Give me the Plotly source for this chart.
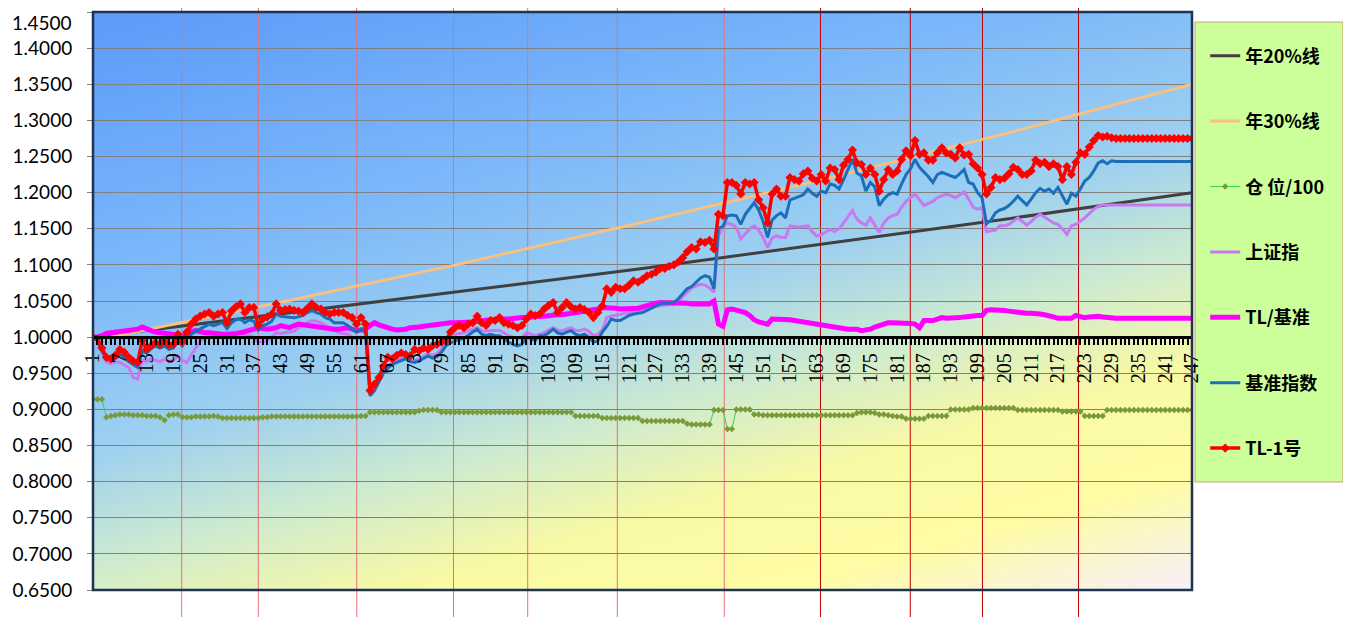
import base64
import struct
import zlib

import numpy as np
import plotly.graph_objects as go

# ---------------- data ----------------
categories = list(range(1, 248))
tick_values = list(range(1, 248, 6))
tick_labels = [str(v) for v in tick_values]
y_tick_values = [0.65, 0.70, 0.75, 0.80, 0.85, 0.90, 0.95, 1.00, 1.05, 1.10,
                 1.15, 1.20, 1.25, 1.30, 1.35, 1.40, 1.45]

# reference growth lines
ref_x = [1, 42, 83, 124, 165, 206, 247]
year20_line = [1.000, 1.031, 1.063, 1.095, 1.129, 1.164, 1.200]
year30_line = [0.995, 1.047, 1.101, 1.159, 1.219, 1.283, 1.350]

position_100 = [
    0.914, 0.914, 0.914, 0.889, 0.891, 0.892, 0.893, 0.893, 0.893, 0.892,
    0.892, 0.892, 0.891, 0.891, 0.891, 0.889, 0.885, 0.892, 0.893, 0.893,
    0.889, 0.889, 0.889, 0.890, 0.890, 0.890, 0.890, 0.891, 0.890, 0.888,
    0.888, 0.888, 0.888, 0.888, 0.888, 0.888, 0.888, 0.888, 0.889, 0.889,
    0.890, 0.890, 0.890, 0.890, 0.890, 0.890, 0.890, 0.890, 0.890, 0.890,
    0.890, 0.890, 0.890, 0.890, 0.890, 0.890, 0.890, 0.890, 0.890, 0.890,
    0.891, 0.891, 0.896, 0.896, 0.896, 0.896, 0.896, 0.896, 0.896, 0.896,
    0.896, 0.896, 0.896, 0.898, 0.899, 0.899, 0.899, 0.899, 0.896, 0.896,
    0.896, 0.896, 0.896, 0.896, 0.896, 0.896, 0.896, 0.896, 0.896, 0.896,
    0.896, 0.896, 0.896, 0.896, 0.896, 0.896, 0.896, 0.896, 0.896, 0.896,
    0.896, 0.896, 0.896, 0.896, 0.896, 0.896, 0.896, 0.896, 0.891, 0.891,
    0.891, 0.891, 0.891, 0.891, 0.888, 0.888, 0.888, 0.888, 0.888, 0.888,
    0.888, 0.888, 0.888, 0.884, 0.884, 0.884, 0.884, 0.884, 0.884, 0.884,
    0.884, 0.884, 0.884, 0.880, 0.879, 0.879, 0.879, 0.879, 0.879, 0.899,
    0.899, 0.899, 0.873, 0.873, 0.900, 0.900, 0.900, 0.900, 0.893, 0.893,
    0.892, 0.892, 0.892, 0.892, 0.892, 0.892, 0.892, 0.892, 0.892, 0.892,
    0.892, 0.892, 0.892, 0.892, 0.892, 0.892, 0.892, 0.892, 0.892, 0.892,
    0.892, 0.895, 0.896, 0.896, 0.896, 0.895, 0.893, 0.893, 0.892, 0.891,
    0.890, 0.890, 0.887, 0.887, 0.887, 0.887, 0.887, 0.891, 0.891, 0.891,
    0.891, 0.891, 0.900, 0.900, 0.900, 0.900, 0.900, 0.902, 0.902, 0.902,
    0.902, 0.902, 0.902, 0.902, 0.902, 0.902, 0.902, 0.899, 0.899, 0.899,
    0.899, 0.899, 0.899, 0.899, 0.899, 0.899, 0.899, 0.897, 0.897, 0.897,
    0.897, 0.897, 0.891, 0.891, 0.891, 0.891, 0.891, 0.899, 0.899, 0.899,
    0.899, 0.899, 0.899, 0.899, 0.899, 0.899, 0.899, 0.899, 0.899, 0.899,
    0.899, 0.899, 0.899, 0.899, 0.899, 0.899, 0.899,
]

shanghai_index = [
    1.000, 0.995, 0.978, 0.966, 0.963, 0.966, 0.965, 0.962, 0.958, 0.944,
    0.942, 0.968, 0.966, 0.970, 0.968, 0.966, 0.970, 0.966, 0.968, 0.974,
    0.968, 0.965, 0.975, 0.986, 0.995, 0.997, 1.002, 1.002, 1.004, 1.002,
    0.998, 1.004, 1.006, 1.006, 1.002, 1.003, 1.000, 0.993, 0.994, 0.995,
    1.000, 1.006, 1.005, 1.006, 1.006, 1.008, 1.013, 1.016, 1.020, 1.023,
    1.022, 1.020, 1.016, 1.013, 1.009, 1.006, 1.005, 1.004, 1.000, 0.997,
    1.000, 0.998, 0.925, 0.930, 0.942, 0.953, 0.960, 0.965, 0.968, 0.970,
    0.972, 0.968, 0.967, 0.970, 0.973, 0.977, 0.975, 0.977, 0.984, 0.993,
    1.000, 1.004, 1.005, 1.006, 1.009, 1.011, 1.013, 1.009, 1.008, 1.009,
    1.009, 1.009, 1.006, 1.002, 1.000, 0.998, 0.999, 1.006, 1.004, 1.002,
    1.004, 1.006, 1.010, 1.013, 1.010, 1.009, 1.011, 1.013, 1.009, 1.009,
    1.011, 1.008, 1.002, 1.004, 1.010, 1.027, 1.029, 1.030, 1.031, 1.032,
    1.034, 1.036, 1.037, 1.038, 1.040, 1.041, 1.043, 1.043, 1.044, 1.045,
    1.045, 1.050, 1.056, 1.062, 1.068, 1.071, 1.073, 1.072, 1.068, 1.062,
    1.140, 1.153, 1.158, 1.156, 1.152, 1.136, 1.143, 1.150, 1.154, 1.148,
    1.138, 1.124, 1.137, 1.140, 1.138, 1.138, 1.154, 1.153, 1.152, 1.153,
    1.154, 1.146, 1.140, 1.142, 1.145, 1.149, 1.146, 1.150, 1.158, 1.167,
    1.175, 1.163, 1.158, 1.155, 1.165, 1.155, 1.145, 1.158, 1.165, 1.168,
    1.170, 1.180, 1.188, 1.193, 1.198, 1.190, 1.182, 1.185, 1.188, 1.193,
    1.196, 1.198, 1.196, 1.193, 1.197, 1.201, 1.191, 1.180, 1.177, 1.179,
    1.146, 1.147, 1.148, 1.154, 1.154, 1.156, 1.161, 1.165, 1.160, 1.155,
    1.160, 1.166, 1.170, 1.166, 1.162, 1.158, 1.156, 1.150, 1.142, 1.154,
    1.156, 1.160, 1.165, 1.171, 1.177, 1.181, 1.183, 1.183, 1.183, 1.183,
    1.183, 1.183, 1.183, 1.183, 1.183, 1.183, 1.183, 1.183, 1.183, 1.183,
    1.183, 1.183, 1.183, 1.183, 1.183, 1.183, 1.183,
]

tl_vs_benchmark = [
    1.000, 1.000, 1.002, 1.005, 1.006, 1.007, 1.008, 1.008, 1.009, 1.010,
    1.011, 1.014, 1.011, 1.009, 1.007, 1.006, 1.006, 1.005, 1.004, 1.003,
    1.002, 1.004, 1.008, 1.009, 1.007, 1.006, 1.006, 1.005, 1.004, 1.004,
    1.004, 1.004, 1.005, 1.006, 1.008, 1.010, 1.011, 1.013, 1.012, 1.011,
    1.012, 1.013, 1.016, 1.014, 1.013, 1.016, 1.018, 1.017, 1.016, 1.015,
    1.014, 1.013, 1.012, 1.011, 1.011, 1.011, 1.012, 1.013, 1.011, 1.009,
    1.010, 1.011, 1.016, 1.020, 1.017, 1.015, 1.012, 1.011, 1.010, 1.010,
    1.011, 1.013, 1.013, 1.014, 1.015, 1.016, 1.017, 1.018, 1.018, 1.019,
    1.020, 1.020, 1.020, 1.020, 1.021, 1.021, 1.022, 1.023, 1.023, 1.024,
    1.024, 1.025, 1.025, 1.025, 1.026, 1.026, 1.027, 1.027, 1.028, 1.028,
    1.029, 1.029, 1.030, 1.030, 1.031, 1.031, 1.032, 1.032, 1.033, 1.034,
    1.035, 1.036, 1.037, 1.039, 1.041, 1.041, 1.041, 1.040, 1.039, 1.039,
    1.039, 1.039, 1.040, 1.042, 1.044, 1.046, 1.047, 1.048, 1.048, 1.048,
    1.048, 1.048, 1.047, 1.047, 1.046, 1.046, 1.046, 1.046, 1.046, 1.050,
    1.018, 1.015, 1.038, 1.039, 1.037, 1.036, 1.034, 1.030, 1.024, 1.021,
    1.019, 1.018, 1.025, 1.025, 1.024, 1.025, 1.024, 1.023, 1.022, 1.021,
    1.020, 1.019, 1.018, 1.017, 1.016, 1.014, 1.013, 1.012, 1.011, 1.011,
    1.011, 1.011, 1.009, 1.010, 1.011, 1.014, 1.016, 1.018, 1.020, 1.020,
    1.020, 1.020, 1.020, 1.019, 1.018, 1.013, 1.023, 1.023, 1.023, 1.025,
    1.027, 1.026, 1.026, 1.026, 1.027, 1.028, 1.029, 1.030, 1.030, 1.030,
    1.037, 1.038, 1.038, 1.037, 1.037, 1.036, 1.035, 1.034, 1.034, 1.033,
    1.033, 1.033, 1.032, 1.031, 1.030, 1.028, 1.026, 1.026, 1.026, 1.026,
    1.030, 1.028, 1.027, 1.028, 1.029, 1.029, 1.028, 1.027, 1.026, 1.026,
    1.026, 1.026, 1.026, 1.026, 1.026, 1.026, 1.026, 1.026, 1.026, 1.026,
    1.026, 1.026, 1.026, 1.026, 1.026, 1.026, 1.026,
]

benchmark_index = [
    1.000, 0.995, 0.980, 0.972, 0.967, 0.970, 0.976, 0.972, 0.966, 0.962,
    0.958, 0.980, 0.978, 0.984, 0.988, 0.985, 0.988, 0.983, 0.985, 0.995,
    0.988, 0.998, 1.004, 1.008, 1.011, 1.014, 1.018, 1.016, 1.018, 1.020,
    1.012, 1.020, 1.024, 1.025, 1.020, 1.024, 1.022, 1.010, 1.016, 1.018,
    1.022, 1.032, 1.029, 1.028, 1.027, 1.027, 1.028, 1.030, 1.034, 1.037,
    1.034, 1.032, 1.027, 1.025, 1.020, 1.020, 1.020, 1.016, 1.011, 1.007,
    1.011, 1.006, 0.919, 0.926, 0.938, 0.950, 0.957, 0.962, 0.965, 0.968,
    0.970, 0.966, 0.965, 0.967, 0.970, 0.974, 0.971, 0.973, 0.979, 0.988,
    0.992, 0.995, 0.997, 0.998, 1.003, 1.007, 1.011, 1.004, 1.002, 1.004,
    1.002, 1.002, 0.998, 0.993, 0.990, 0.988, 0.990, 1.000, 0.998, 0.995,
    1.002, 1.002, 1.006, 1.011, 1.006, 1.004, 1.007, 1.009, 1.004, 1.002,
    1.004, 1.000, 0.993, 0.995, 1.007, 1.015, 1.025, 1.023, 1.023, 1.027,
    1.030, 1.032, 1.033, 1.034, 1.037, 1.040, 1.043, 1.046, 1.047, 1.047,
    1.048, 1.053, 1.060, 1.067, 1.070, 1.076, 1.082, 1.085, 1.083, 1.067,
    1.151, 1.153, 1.168, 1.169, 1.168, 1.156, 1.170, 1.178, 1.186, 1.176,
    1.160, 1.138, 1.162, 1.168, 1.172, 1.165, 1.190, 1.192, 1.194, 1.197,
    1.205, 1.199, 1.195, 1.202, 1.200, 1.212, 1.210, 1.205, 1.218, 1.232,
    1.246, 1.227, 1.223, 1.202, 1.214, 1.208, 1.182, 1.191, 1.197, 1.200,
    1.198, 1.212, 1.225, 1.233, 1.246, 1.235, 1.229, 1.222, 1.214, 1.225,
    1.228, 1.226, 1.224, 1.221, 1.226, 1.232, 1.214, 1.212, 1.200, 1.193,
    1.157, 1.162, 1.172, 1.176, 1.178, 1.182, 1.188, 1.195, 1.189, 1.183,
    1.191, 1.200, 1.206, 1.202, 1.205, 1.199, 1.207, 1.196, 1.184, 1.199,
    1.195, 1.205, 1.216, 1.221, 1.230, 1.241, 1.244, 1.240, 1.244, 1.243,
    1.243, 1.243, 1.243, 1.243, 1.243, 1.243, 1.243, 1.243, 1.243, 1.243,
    1.243, 1.243, 1.243, 1.243, 1.243, 1.243, 1.243,
]

tl1_fund = [
    1.000, 0.998, 0.985, 0.972, 0.970, 0.975, 0.983, 0.979, 0.972, 0.967,
    0.965, 0.995, 0.983, 0.988, 0.993, 0.990, 0.995, 0.989, 0.990, 1.004,
    0.993, 1.007, 1.018, 1.025, 1.029, 1.032, 1.034, 1.029, 1.032, 1.034,
    1.020, 1.036, 1.042, 1.046, 1.034, 1.041, 1.041, 1.016, 1.025, 1.028,
    1.032, 1.046, 1.037, 1.038, 1.039, 1.037, 1.036, 1.034, 1.040, 1.046,
    1.041, 1.039, 1.034, 1.032, 1.034, 1.034, 1.034, 1.030, 1.027, 1.018,
    1.027, 1.018, 0.926, 0.935, 0.944, 0.960, 0.972, 0.970, 0.975, 0.978,
    0.976, 0.974, 0.983, 0.981, 0.985, 0.983, 0.988, 0.990, 0.993, 0.995,
    1.007, 1.013, 1.016, 1.013, 1.018, 1.020, 1.029, 1.020, 1.016, 1.023,
    1.023, 1.027, 1.020, 1.018, 1.016, 1.013, 1.016, 1.025, 1.032, 1.030,
    1.032, 1.039, 1.044, 1.048, 1.034, 1.041, 1.048, 1.042, 1.039, 1.041,
    1.038, 1.034, 1.027, 1.034, 1.043, 1.067, 1.062, 1.069, 1.067, 1.067,
    1.072, 1.078, 1.076, 1.080, 1.085, 1.087, 1.090, 1.095, 1.095, 1.098,
    1.100, 1.104, 1.110, 1.118, 1.124, 1.122, 1.132, 1.131, 1.134, 1.122,
    1.170, 1.168, 1.214, 1.214, 1.210, 1.198, 1.214, 1.212, 1.214, 1.190,
    1.179, 1.158, 1.198, 1.205, 1.195, 1.195, 1.221, 1.218, 1.216, 1.226,
    1.230, 1.220, 1.216, 1.225, 1.216, 1.234, 1.232, 1.218, 1.238, 1.246,
    1.259, 1.241, 1.239, 1.225, 1.234, 1.225, 1.202, 1.218, 1.232, 1.225,
    1.230, 1.246, 1.258, 1.251, 1.272, 1.253, 1.255, 1.245, 1.245, 1.255,
    1.262, 1.255, 1.253, 1.248, 1.262, 1.252, 1.253, 1.240, 1.234, 1.225,
    1.198, 1.207, 1.221, 1.218, 1.220, 1.226, 1.235, 1.232, 1.225, 1.225,
    1.230, 1.245, 1.240, 1.242, 1.236, 1.240, 1.236, 1.218, 1.236, 1.225,
    1.242, 1.255, 1.253, 1.263, 1.272, 1.279, 1.277, 1.278, 1.276, 1.275,
    1.275, 1.275, 1.275, 1.275, 1.275, 1.275, 1.275, 1.275, 1.275, 1.275,
    1.275, 1.275, 1.275, 1.275, 1.275, 1.275, 1.275,
]

# vertical marker lines (category positions) and their colours
light_marks = [20.85, 38.0, 60.03, 81.69, 98.3, 118.36, 142.3]
dark_marks = [163.84, 183.94, 200.1, 221.6]

for _s in (position_100, shanghai_index, tl_vs_benchmark, benchmark_index, tl1_fund):
    assert len(_s) == len(categories), len(_s)

# ---------------- axis geometry ----------------
Y_LO, Y_HI = y_tick_values[0], y_tick_values[-1]   # gridded value range
Y_VIEW = [0.61263, 1.45554]         # plot area spans full figure height
X_AXIS_AT = 1.0                     # category axis crosses here
x_axis_pos = (X_AXIS_AT - Y_VIEW[0]) / (Y_VIEW[1] - Y_VIEW[0])

# all but the topmost label sit on the axis; the top one is nudged down as an annotation
y_tick_text = [f"{v:.4f}" for v in y_tick_values[:-1]] + [""]
top_label = f"{y_tick_values[-1]:.4f}"
Y_FONT = dict(family="Lato", size=19, color="black")


# ---------------- background gradient ----------------
def gradient_png(w=275, h=145):
    u = np.linspace(0, 1, w)[None, :]
    v = np.linspace(0, 1, h)[:, None]
    t = 0.35 * u + 0.65 * v
    stops = [0.0, 0.30, 0.50, 0.62, 0.75, 0.87, 1.0]
    cols = np.array([
        (92, 155, 250), (125, 185, 250), (160, 210, 240), (205, 235, 210),
        (250, 250, 165), (255, 253, 165), (248, 240, 250)], dtype=float)
    img = np.zeros((h, w, 3), dtype=np.uint8)
    for c in range(3):
        img[:, :, c] = np.clip(np.interp(t, stops, cols[:, c]), 0, 255).astype(np.uint8)
    raw = b"".join(b"\x00" + img[r].tobytes() for r in range(h))

    def chunk(tag, data):
        out = struct.pack(">I", len(data)) + tag + data
        return out + struct.pack(">I", zlib.crc32(tag + data) & 0xFFFFFFFF)

    png = (b"\x89PNG\r\n\x1a\n"
           + chunk(b"IHDR", struct.pack(">IIBBBBB", w, h, 8, 2, 0, 0, 0))
           + chunk(b"IDAT", zlib.compress(raw, 9))
           + chunk(b"IEND", b""))
    return "data:image/png;base64," + base64.b64encode(png).decode()


# ---------------- figure ----------------
fig = go.Figure()

fig.add_trace(go.Scatter(x=ref_x, y=year20_line, mode="lines", name="年20%线",
                         legendgroup="a", line=dict(color="#404040", width=3)))
fig.add_trace(go.Scatter(x=ref_x, y=year30_line, mode="lines", name="年30%线",
                         legendgroup="b", line=dict(color="#F9C07F", width=3)))
fig.add_trace(go.Scatter(x=categories, y=position_100, mode="lines+markers", name="仓 位/100",
                         legendgroup="c", line=dict(color="#3CD23C", width=1),
                         marker=dict(symbol="diamond", size=5, color="#7A9A3A")))
fig.add_trace(go.Scatter(x=categories, y=shanghai_index, mode="lines", name="上证指",
                         legendgroup="d", line=dict(color="#C878F0", width=3)))
fig.add_trace(go.Scatter(x=categories, y=tl_vs_benchmark, mode="lines", name="TL/基准",
                         legendgroup="e", line=dict(color="#FF00FF", width=5)))
fig.add_trace(go.Scatter(x=categories, y=benchmark_index, mode="lines", name="基准指数",
                         legendgroup="f", line=dict(color="#1A6FB8", width=3)))
fig.add_trace(go.Scatter(x=categories, y=tl1_fund, mode="lines+markers", name="TL-1号",
                         legendgroup="g", line=dict(color="#FF0000", width=3.5),
                         marker=dict(symbol="diamond", size=7, color="#FF0000")))

shapes = []
for m in light_marks:
    shapes.append(dict(type="line", xref="x", yref="paper", x0=m, x1=m, y0=0, y1=1,
                       line=dict(color="#E8707A", width=1), layer="below"))
for m in dark_marks:
    shapes.append(dict(type="line", xref="x", yref="paper", x0=m, x1=m, y0=0, y1=1,
                       line=dict(color="#C00000", width=1), layer="below"))
# plot-area border
shapes.append(dict(type="rect", xref="paper", yref="y", x0=0, x1=1, y0=Y_LO, y1=Y_HI,
                   line=dict(color="#1F3352", width=2.5), fillcolor="rgba(0,0,0,0)", layer="above"))
# legend box
shapes.append(dict(type="rect", xref="paper", yref="paper", x0=1.0027, x1=1.1374,
                   y0=0.2217, y1=0.977, line=dict(color="#C8A078", width=1),
                   fillcolor="#CCFF99", layer="below"))

fig.update_layout(
    width=1343, height=609,
    margin=dict(l=85, r=159, t=0, b=0, autoexpand=False),
    paper_bgcolor="white",
    plot_bgcolor="rgba(0,0,0,0)",
    images=[dict(source=gradient_png(), xref="paper", yref="y", x=0, y=Y_HI,
                 sizex=1, sizey=Y_HI - Y_LO, sizing="stretch", xanchor="left", yanchor="top",
                 layer="below")],
    shapes=shapes,
    annotations=[dict(text=top_label, xref="paper", yref="y", x=0, y=Y_HI,
                      xanchor="right", yanchor="top", xshift=-19, yshift=3,
                      showarrow=False, font=Y_FONT)],
    showlegend=True,
    legend=dict(x=1.012, y=0.9516, xanchor="left", yanchor="top",
                bgcolor="rgba(0,0,0,0)", borderwidth=0, tracegroupgap=39,
                font=dict(family="Noto Sans CJK SC", size=18, color="black", weight="bold")),
    xaxis=dict(range=[1, 247], tickmode="array", tickvals=tick_values, ticktext=tick_labels,
               tickangle=-90, ticks="outside", ticklen=6, tickwidth=1.5, tickcolor="black",
               minor=dict(dtick=1, tick0=1, ticks="outside", ticklen=6, tickwidth=1.5,
                          tickcolor="black", showgrid=False),
               showline=True, linecolor="black", linewidth=3, automargin=False,
               anchor="free", position=x_axis_pos, showgrid=False, zeroline=False,
               tickfont=dict(family="Liberation Serif", size=20, color="black")),
    yaxis=dict(range=Y_VIEW, tickmode="array", tickvals=y_tick_values, ticktext=y_tick_text,
               showgrid=True, gridcolor="#808080", gridwidth=1, automargin=False,
               ticks="outside", ticklen=5, tickcolor="#808080",
               showline=False, zeroline=False, ticklabelstandoff=11,
               tickfont=Y_FONT),
)

fig.write_html("out.html")
